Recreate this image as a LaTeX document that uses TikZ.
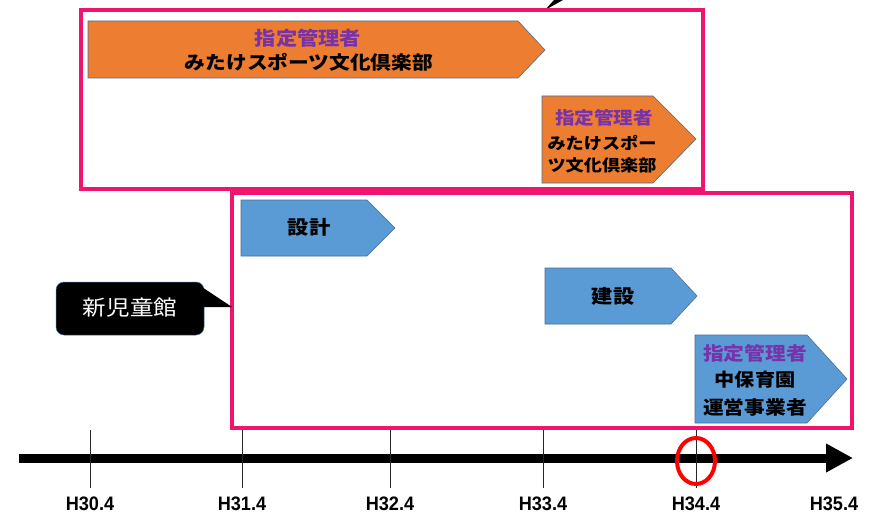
\documentclass[tikz,border=0pt]{standalone}
\usepackage{fontspec}
\setmainfont{Liberation Sans}
\newfontfamily\jp[FakeStretch=1.12]{Noto Sans CJK JP}
\newfontfamily\yearfont[FakeStretch=0.93]{Liberation Sans}
\usetikzlibrary{arrows.meta,shapes.geometric}
\definecolor{pinkline}{RGB}{240,20,110}
\definecolor{orangefill}{RGB}{237,125,49}
\definecolor{bluefill}{RGB}{91,155,213}
\definecolor{edgeblue}{RGB}{75,110,150}
\definecolor{purpletxt}{RGB}{120,50,170}
\newcommand\jpsz[1]{\jp\bfseries\fontsize{#1}{#1}\selectfont}
\tikzset{
  orangeshape/.style={fill=orangefill, draw=edgeblue, line width=0.6pt},
  blueshape/.style={fill=bluefill, draw=edgeblue, line width=0.6pt},
  pinkbox/.style={draw=pinkline, line width=3.2pt},
  lbl/.style={inner sep=0pt, anchor=center},
  ticksty/.style={draw=black!85, line width=0.7pt},
  yearlbl/.style={inner sep=0pt, font=\yearfont\bfseries\fontsize{19.5}{19.5}\selectfont}
}
\begin{document}
\begin{tikzpicture}[x=1pt,y=-1pt]
\useasboundingbox (0,0) rectangle (874,516);
\fill[white] (0,0) rectangle (874,516);

% top callout tail (cut off)
\fill[black] (545,10) -- (554,0) -- (563,0) -- cycle;

% frames
\draw[pinkbox] (81,10) rectangle (703,189);
\draw[pinkbox] (232,193) rectangle (852,428);

% orange chevrons
\draw[orangeshape] (88,21) -- (518,21) -- (545,50) -- (518,78) -- (88,78) -- cycle;
\draw[orangeshape] (542,96) -- (653,96) -- (696,139) -- (653,183) -- (542,183) -- cycle;

% blue chevrons
\draw[blueshape] (241,200) -- (367,200) -- (395,228) -- (367,256) -- (241,256) -- cycle;
\draw[blueshape] (545,268) -- (671,268) -- (697,296) -- (671,324) -- (545,324) -- cycle;
\draw[blueshape] (695,335) -- (807,335) -- (847,379) -- (807,423) -- (695,423) -- cycle;

% texts in chevrons
\node[lbl, text=purpletxt, font=\jpsz{19}] (o1a) at (308,38) {指定管理者};
\node[lbl, font=\jpsz{18.5}] (o1b) at (309,62) {みたけスポーツ文化倶楽部};
\node[lbl, text=purpletxt, font=\jpsz{17.5}] (o2a) at (604,118) {指定管理者};
\node[lbl, font=\jpsz{16.2}] (o2b) at (602,143) {みたけスポー};
\node[lbl, font=\jpsz{16.2}] (o2c) at (602,165) {ツ文化倶楽部};
\node[lbl, font=\jpsz{19}] (b1) at (309,227) {設計};
\node[lbl, font=\jpsz{19}] (b2) at (613,296) {建設};
\node[lbl, text=purpletxt, font=\jpsz{18.5}] (b3a) at (755,353) {指定管理者};
\node[lbl, font=\jpsz{18}] (b3b) at (755,380) {中保育園};
\node[lbl, font=\jpsz{18.5}] (b3c) at (755,407) {運営事業者};

% callout
\draw[fill=black, draw=edgeblue, line width=0.5pt, rounded corners=8pt] (56,282) rectangle (204,335);
\fill[black] (202,287) -- (232,307) -- (202,307) -- cycle;
\node[lbl, text=white, font={\jp\fontsize{21}{21}\selectfont}] (callout) at (130,308) {新児童館};

% timeline
\coordinate (tl0) at (19,458);
\coordinate (tl1) at (853,458);
\draw[line width=9pt, -{Triangle[length=27pt,width=27pt]}] (tl0) -- (tl1);

\foreach \x/\lab [count=\i] in {90/H30.4, 242/H31.4, 390/H32.4, 543/H33.4, 696/H34.4} {
  \coordinate (tk\i a) at (\x,430);
  \coordinate (tk\i b) at (\x,488);
  \draw[ticksty] (tk\i a) -- (tk\i b);
  \node[yearlbl] (yr\i) at (\x,504) {\lab};
}
\node[yearlbl] (yr6) at (834,504) {H35.4};

% red marker
\node[draw=red, line width=4pt, ellipse, minimum width=38pt, minimum height=46pt, inner sep=0pt] (mark) at (696,461) {};
\end{tikzpicture}
\end{document}
